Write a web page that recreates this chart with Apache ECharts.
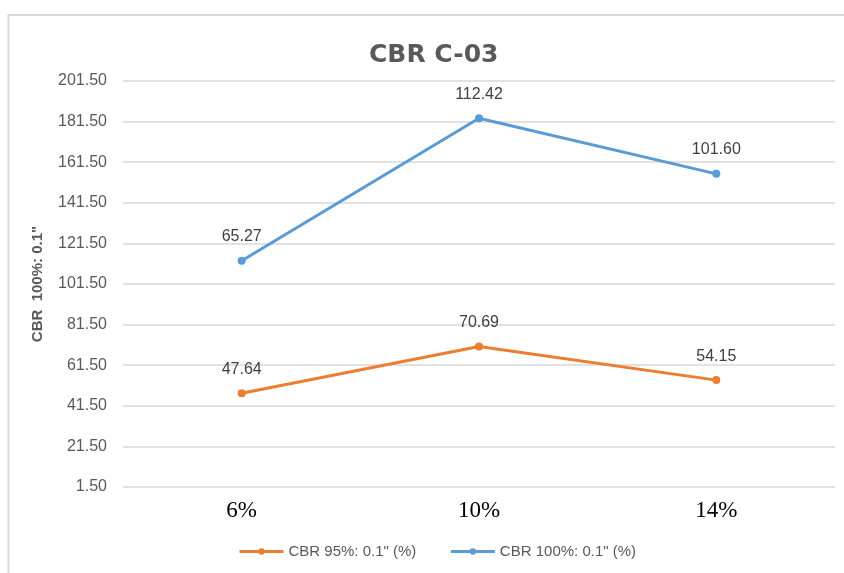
<!DOCTYPE html>
<html>
<head>
<meta charset="utf-8">
<script src="https://cdn.jsdelivr.net/npm/echarts@6/dist/echarts.min.js"></script>
<style>html,body{margin:0;padding:0;background:#fff;}#c{width:844px;height:573px;}</style>
</head>
<body>
<div id="c"></div>
<script>
const categories = ['6%', '10%', '14%'];
const seriesNames = ['CBR 95%: 0.1" (%)', 'CBR 100%: 0.1" (%)'];
const cbr95 = [47.64, 70.69, 54.15];
const cbr100 = [65.27, 112.42, 101.60];
const yMin = 1.5, yMax = 201.5, yStep = 20;

const chart = echarts.init(document.getElementById('c'), null, {renderer: 'canvas'});
const labelStyle = {
  show: true, position: 'top', distance: 12,
  fontFamily: 'Liberation Sans', fontSize: 16, color: '#404040',
  formatter: p => Number(p.value).toFixed(2)
};
chart.setOption({
  backgroundColor: '#fff',
  animation: false,
  graphic: [{
    type: 'polyline', silent: true,
    shape: {points: [[8.5, 600], [8.5, 15], [900, 15]]},
    style: {stroke: '#D9D9D9', lineWidth: 2, fill: null}
  }],
  title: {
    text: 'CBR C-03', left: 364, top: 38,
    textStyle: {fontFamily: 'DejaVu Sans', fontWeight: 'bold', fontSize: 25, color: '#595959'}
  },
  legend: {
    data: seriesNames, left: 233, top: 539, itemWidth: 44, itemHeight: 8, itemGap: 33,
    lineStyle: {width: 3},
    textStyle: {fontFamily: 'Liberation Sans', fontSize: 15, color: '#595959'}
  },
  grid: {left: 123, right: 9, top: 81, bottom: 86, containLabel: false},
  xAxis: {
    type: 'category', data: categories, boundaryGap: true,
    axisLine: {show: false}, axisTick: {show: false},
    axisLabel: {fontFamily: 'Liberation Serif', fontSize: 23, color: '#000', margin: 12}
  },
  yAxis: {
    type: 'value', min: yMin, max: yMax, interval: yStep,
    name: 'CBR  100%: 0.1"', nameLocation: 'middle', nameGap: 78, nameRotate: 90,
    nameTextStyle: {fontFamily: 'Liberation Sans', fontWeight: 'bold', fontSize: 15, color: '#595959'},
    axisLine: {show: false}, axisTick: {show: false},
    axisLabel: {fontFamily: 'Liberation Sans', fontSize: 16, color: '#595959', margin: 16,
      formatter: v => v.toFixed(2)},
    splitLine: {lineStyle: {color: '#D9D9D9', width: 1.5}}
  },
  series: [
    {name: seriesNames[0], type: 'line', stack: 'total', data: cbr95,
     symbol: 'circle', symbolSize: 8, color: '#ED7D31',
     lineStyle: {width: 3, color: '#ED7D31'}, itemStyle: {color: '#ED7D31'}, label: labelStyle},
    {name: seriesNames[1], type: 'line', stack: 'total', data: cbr100,
     symbol: 'circle', symbolSize: 8, color: '#5B9BD5',
     lineStyle: {width: 3, color: '#5B9BD5'}, itemStyle: {color: '#5B9BD5'}, label: labelStyle}
  ]
});
</script>
</body>
</html>
